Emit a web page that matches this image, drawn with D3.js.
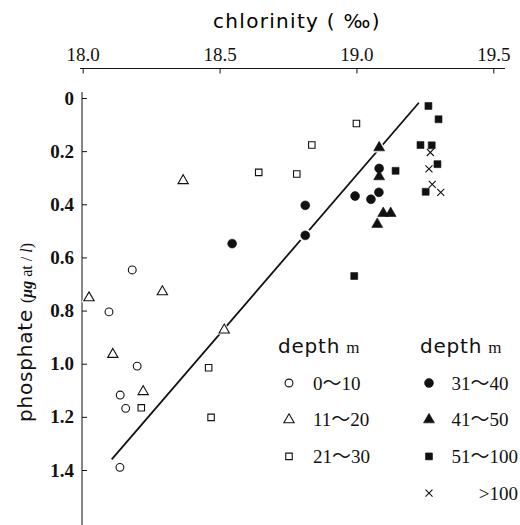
<!DOCTYPE html>
<html>
<head>
<meta charset="utf-8">
<script src="https://cdn.jsdelivr.net/npm/d3@7"></script>
<style>
  body { margin: 0; background: #fff; }
  svg { display: block; }
</style>
</head>
<body>
<div id="chart"></div>
<script>
(function () {
    // Data: [chlorinity (‰), phosphate (µg at/l)]
    const depth0to10 = [[18.181, 0.647], [18.096, 0.805], [18.199, 1.009], [18.137, 1.118], [18.157, 1.168], [18.136, 1.390]];
    const depth11to20 = [[18.367, 0.311], [18.023, 0.752], [18.291, 0.729], [18.517, 0.873], [18.110, 0.965], [18.221, 1.105]];
    const depth21to30 = [[19.000, 0.096], [18.837, 0.177], [18.643, 0.280], [18.782, 0.286], [18.460, 1.015], [18.214, 1.166], [18.469, 1.202]];
    const depth31to40 = [[18.546, 0.548], [18.813, 0.404], [18.813, 0.517], [18.995, 0.369], [19.053, 0.381], [19.082, 0.355], [19.083, 0.265]];
    const depth41to50 = [[19.083, 0.187], [19.083, 0.296], [19.098, 0.434], [19.125, 0.434], [19.076, 0.475]];
    const depth51to100 = [[19.263, 0.030], [19.300, 0.080], [19.234, 0.177], [19.275, 0.178], [19.296, 0.249], [19.143, 0.274], [19.253, 0.353], [18.992, 0.670]];
    const depthOver100 = [[19.270, 0.205], [19.265, 0.267], [19.277, 0.325], [19.308, 0.355]];

    const depthLabels = ["0～10", "11～20", "21～30", "31～40", "41～50", "51～100", ">100"];
    const fitLine = [[18.106, 1.360], [19.228, 0.018]];

    const xTicks = [18.0, 18.5, 19.0, 19.5];
    const yTicks = [0, 0.2, 0.4, 0.6, 0.8, 1.0, 1.2, 1.4];

    const width = 520, height = 525;

    const svg = d3.select("#chart").append("svg")
        .attr("width", width)
        .attr("height", height);

    const x = d3.scaleLinear().domain([18, 19.5]).range([82.7, 493.3]);
    const y = d3.scaleLinear().domain([0, 1.4]).range([98, 470]);

    // marker styles for each depth class
    const styles = [
        { type: d3.symbolCircle, size: 48, filled: false },
        { type: d3.symbolTriangle, size: 46, filled: false },
        { type: d3.symbolSquare, size: 42, filled: false },
        { type: d3.symbolCircle, size: 62, filled: true },
        { type: d3.symbolTriangle, size: 52, filled: true },
        { type: d3.symbolSquare, size: 48, filled: true },
        { type: d3.symbolTimes, size: 34, filled: false, cross: true }
    ];
    const series = [depth0to10, depth11to20, depth21to30, depth31to40, depth41to50, depth51to100, depthOver100];

    // Title
    svg.append("text")
        .attr("x", 213)
        .attr("y", 28)
        .style("font-family", "'DejaVu Sans', sans-serif")
        .style("font-size", "20px")
        .style("letter-spacing", "1.3px")
        .text("chlorinity ( ‰)");

    // Top axis
    const xAxis = svg.append("g")
        .attr("transform", "translate(0,68.5)")
        .call(d3.axisTop(x).tickValues(xTicks).tickFormat(d3.format(".1f"))
            .tickSizeInner(-5).tickSizeOuter(0).tickPadding(8));
    xAxis.select(".domain").remove();
    xAxis.append("line")
        .attr("x1", 80).attr("x2", 505)
        .attr("stroke", "#111").attr("stroke-width", 1);
    xAxis.selectAll(".tick line").attr("stroke", "#111");
    xAxis.selectAll(".tick text")
        .attr("fill", "#111")
        .style("font-family", "'Liberation Serif', serif")
        .style("font-size", "19px");

    // Left axis
    const yAxis = svg.append("g")
        .attr("transform", "translate(82,0)")
        .call(d3.axisLeft(y).tickValues(yTicks).tickFormat(d => d === 0 ? "0" : d3.format(".1f")(d))
            .tickSizeInner(-5).tickSizeOuter(0).tickPadding(8));
    yAxis.select(".domain").remove();
    yAxis.append("line")
        .attr("y1", 92).attr("y2", 525)
        .attr("stroke", "#111").attr("stroke-width", 1);
    yAxis.selectAll(".tick line").attr("stroke", "#111");
    yAxis.selectAll(".tick text")
        .attr("fill", "#111")
        .style("font-family", "'Liberation Serif', serif")
        .style("font-weight", "bold")
        .style("font-size", "19px");

    // Y label
    const yLabel = svg.append("text")
        .attr("transform", "translate(32,422) rotate(-90)")
        .attr("fill", "#111");
    yLabel.append("tspan")
        .style("font-family", "'DejaVu Sans', sans-serif")
        .style("font-size", "20px")
        .style("letter-spacing", "0.8px")
        .text("phosphate");
    yLabel.append("tspan")
        .style("font-family", "'Liberation Serif', serif")
        .style("font-size", "16px")
        .attr("dx", 6)
        .text("(");
    yLabel.append("tspan")
        .style("font-family", "'Liberation Serif', serif")
        .style("font-size", "16px")
        .style("font-style", "italic")
        .style("font-weight", "bold")
        .text("μg");
    yLabel.append("tspan")
        .style("font-family", "'Liberation Serif', serif")
        .style("font-size", "16px")
        .text(" at / ");
    yLabel.append("tspan")
        .style("font-family", "'Liberation Serif', serif")
        .style("font-size", "16px")
        .style("font-style", "italic")
        .text("l");
    yLabel.append("tspan")
        .style("font-family", "'Liberation Serif', serif")
        .style("font-size", "16px")
        .text(")");

    // Regression line
    svg.append("path")
        .datum(fitLine)
        .attr("d", d3.line().x(d => x(d[0])).y(d => y(d[1])))
        .attr("fill", "none")
        .attr("stroke", "#111")
        .attr("stroke-width", 1.8);

    const points = series.flatMap((s, k) => s.map(d => ({ c: d[0], p: d[1], k })));

    // white halos so the line breaks around markers
    svg.append("g").selectAll("path")
        .data(points)
        .enter().append("path")
        .attr("transform", d => `translate(${x(d.c)},${y(d.p)})`)
        .attr("d", d => d3.symbol().type(styles[d.k].cross ? d3.symbolSquare : styles[d.k].type).size(styles[d.k].size * 2.2)())
        .attr("fill", "#fff");

    function drawMarker(sel) {
        sel.attr("d", d => d3.symbol().type(styles[d.k].type).size(styles[d.k].size)())
            .attr("fill", d => styles[d.k].filled ? "#111" : "none")
            .attr("stroke", "#111")
            .attr("stroke-width", d => styles[d.k].filled ? 0.6 : 1.1);
    }

    svg.append("g").selectAll("path")
        .data(points)
        .enter().append("path")
        .attr("transform", d => `translate(${x(d.c)},${y(d.p)})`)
        .call(drawMarker);

    // Legend
    const headers = [{ x: 278 }, { x: 420 }];
    headers.forEach(h => {
        const t = svg.append("text").attr("x", h.x).attr("y", 353).attr("fill", "#111");
        t.append("tspan")
            .style("font-family", "'DejaVu Sans', sans-serif")
            .style("font-size", "20px")
            .style("letter-spacing", "0.8px")
            .text("depth");
        t.append("tspan")
            .attr("dx", 6)
            .style("font-family", "'Liberation Serif', serif")
            .style("font-size", "17px")
            .text("m");
    });

    const legendItems = depthLabels.map((label, k) => ({
        label, k,
        col: k < 3 ? 0 : 1,
        row: k < 3 ? k : k - 3
    }));

    const legend = svg.append("g").selectAll("g")
        .data(legendItems)
        .enter().append("g")
        .attr("transform", d => `translate(${d.col === 0 ? 289 : 429},${383 + d.row * 36.7})`);

    legend.append("path").call(drawMarker);

    legend.append("text")
        .attr("x", d => d.label.startsWith(">") ? 89 : (d.col === 0 ? 24 : 22.5))
        .attr("y", 6.5)
        .attr("text-anchor", d => d.label.startsWith(">") ? "end" : "start")
        .attr("fill", "#111")
        .style("font-family", "'Liberation Serif', 'Noto Sans CJK JP', serif")
        .style("font-size", "19px")
        .text(d => d.label);
})();
</script>
</body>
</html>
